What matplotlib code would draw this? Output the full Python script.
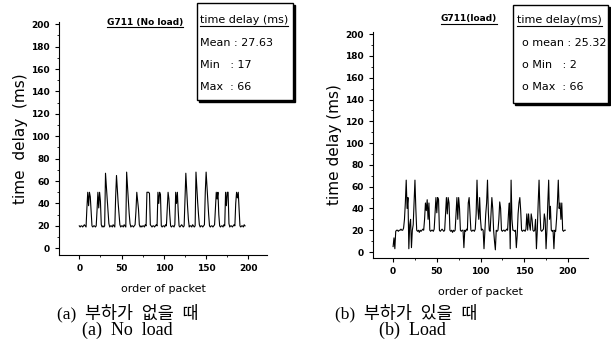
import matplotlib
matplotlib.use("Agg")
import matplotlib.pyplot as plt
from matplotlib.patches import Rectangle
from matplotlib.lines import Line2D
import numpy as np

# time delay per packet, no load (ms)
delay_noload = [
    20, 19, 20, 20, 19, 20, 21, 20, 19, 36,
    50, 38, 50, 46, 33, 20, 19, 20, 20, 19,
    20, 34, 50, 36, 50, 42, 21, 19, 20, 19,
    20, 67, 55, 44, 33, 22, 19, 20, 20, 19,
    21, 20, 19, 46, 65, 52, 40, 30, 21, 19,
    20, 20, 19, 21, 20, 19, 68, 55, 43, 31,
    22, 19, 20, 20, 19, 20, 21, 33, 50, 42,
    35, 21, 19, 20, 19, 20, 20, 19, 21, 20,
    50, 50, 50, 49, 21, 20, 19, 20, 20, 19,
    20, 21, 20, 50, 40, 50, 48, 20, 19, 20,
    20, 19, 21, 20, 36, 50, 44, 30, 20, 19,
    20, 20, 19, 21, 50, 40, 50, 33, 20, 19,
    20, 21, 20, 19, 20, 45, 67, 52, 38, 26,
    19, 20, 20, 19, 21, 20, 19, 20, 68, 54,
    41, 30, 21, 19, 20, 20, 19, 20, 21, 50,
    68, 55, 42, 30, 20, 19, 20, 20, 19, 20,
    21, 35, 50, 44, 50, 30, 20, 19, 20, 20,
    19, 21, 20, 50, 38, 50, 50, 22, 19, 20,
    20, 19, 20, 21, 20, 40, 50, 45, 50, 34,
    20, 19, 20, 20, 19, 21, 20,
]

# time delay per packet, with load (ms)
delay_load = [
    5, 13, 3, 19, 20, 20, 19, 20, 20, 21,
    20, 20, 22, 30, 45, 66, 40, 50, 3, 25,
    30, 4, 20, 25, 45, 66, 40, 20, 19, 20,
    18, 20, 19, 20, 21, 20, 30, 45, 38, 48,
    30, 45, 20, 19, 20, 20, 19, 21, 35, 50,
    36, 50, 48, 20, 19, 20, 21, 20, 19, 20,
    35, 50, 35, 50, 45, 20, 19, 20, 18, 20,
    19, 20, 35, 50, 30, 50, 40, 20, 19, 20,
    20, 4, 20, 19, 21, 20, 45, 50, 35, 20,
    19, 20, 20, 19, 21, 35, 66, 40, 30, 50,
    30, 20, 21, 20, 3, 20, 35, 45, 66, 36,
    20, 19, 35, 50, 40, 20, 10, 2, 20, 19,
    20, 30, 46, 40, 20, 19, 20, 20, 19, 20,
    21, 20, 35, 45, 3, 66, 30, 20, 20, 19,
    20, 4, 15, 35, 45, 50, 38, 20, 19, 20,
    20, 19, 21, 35, 20, 35, 25, 20, 35, 30,
    20, 19, 20, 30, 3, 20, 45, 66, 38, 20,
    19, 20, 21, 35, 30, 3, 20, 45, 66, 30,
    42, 20, 19, 20, 3, 20, 19, 30, 45, 66,
    40, 45, 30, 45, 20, 19, 20, 20,
]

titles = ["G711 (No load)", "G711(load)"]
box_heads = ["time delay (ms)", "time delay(ms)"]
box_lines = [["Mean : 27.63", "Min   : 17", "Max  : 66"],
             ["o mean : 25.32", "o Min   : 2", "o Max  : 66"]]
cap_ko = ["(a)  부하가  없을  때", "(b)  부하가  있을  때"]
cap_en = ["(a)  No  load", "(b)  Load"]

W, H = 611, 356
fig = plt.figure(figsize=(W / 100, H / 100), dpi=100)


def fx(px):
    return px / W


def fy(py):
    return 1 - py / H


def make_axes(left, right, top, bottom, xlim, ylim, data, ylab):
    ax = fig.add_axes([fx(left), fy(bottom), fx(right - left), fy(top) - fy(bottom)])
    ax.plot(np.arange(len(data)), data, color="black", lw=0.8)
    ax.set_xlim(*xlim)
    ax.set_ylim(*ylim)
    ax.spines["top"].set_visible(False)
    ax.spines["right"].set_visible(False)
    ax.set_xticks([0, 50, 100, 150, 200])
    ax.set_xticks([25, 75, 125, 175], minor=True)
    ax.set_yticks(range(0, 201, 20))
    ax.set_yticks(range(10, 200, 20), minor=True)
    ax.tick_params(labelsize=6.5, length=3, width=0.8)
    ax.tick_params(which="minor", length=1.5, width=0.6)
    for lab in ax.get_xticklabels() + ax.get_yticklabels():
        lab.set_fontweight("bold")
    ax.set_xlabel("order of packet", fontsize=8, labelpad=8)
    ax.set_ylabel(ylab, fontsize=11, labelpad=2)
    return ax


ax1 = make_axes(59, 267, 22, 255, (-24, 222), (-6, 202), delay_noload, "time  delay  (ms)")
ax2 = make_axes(373, 588, 32, 258, (-23, 223), (-5.5, 202), delay_load, "time delay (ms)")

underlined = []

# panel titles
underlined.append(fig.text(fx(145), fy(22), titles[0], fontsize=6.5, ha="center", va="center", fontweight="bold"))
underlined.append(fig.text(fx(469), fy(19), titles[1], fontsize=6.5, ha="center", va="center", fontweight="bold"))

# statistic boxes with shadow
for (x0, y0, x1, y1), head, lines, tx in [((197, 3, 293, 100), box_heads[0], box_lines[0], 200),
                                            ((513, 5, 608, 103), box_heads[1], box_lines[1], 517)]:
    fig.add_artist(Rectangle((fx(x0 + 2), fy(y1 + 2)), fx(x1 - x0), fy(y0) - fy(y1),
                             transform=fig.transFigure, facecolor="black", edgecolor="black"))
    fig.add_artist(Rectangle((fx(x0), fy(y1)), fx(x1 - x0), fy(y0) - fy(y1),
                             transform=fig.transFigure, facecolor="white", edgecolor="black", lw=1))
    underlined.append(fig.text(fx(tx), fy(20), head, fontsize=8, va="center"))
    for i, s in enumerate(lines):
        fig.text(fx(tx + (5 if s.startswith("o") else 0)), fy(43 + 22 * i), s, fontsize=8, va="center")

# captions
cap_font = ["Liberation Serif", "Noto Sans CJK KR"]
for cx_ko, cx_en, ko, en in zip([128, 406], [127, 412], cap_ko, cap_en):
    fig.text(fx(cx_ko), fy(313), ko, fontsize=12.5, ha="center", va="center", family=cap_font)
    fig.text(fx(cx_en), fy(330), en, fontsize=13, ha="center", va="center", family=cap_font)

fig.canvas.draw()
for t in underlined:
    bb = t.get_window_extent()
    yy = (bb.y0 - 0.5) / H
    fig.add_artist(Line2D([bb.x0 / W, bb.x1 / W], [yy, yy], transform=fig.transFigure,
                          color="black", lw=0.8))

fig.savefig("out.png", dpi=100)
